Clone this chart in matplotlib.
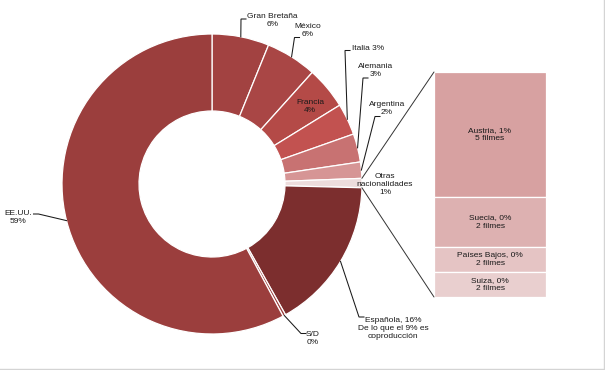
import matplotlib.pyplot as plt
from matplotlib.patches import ConnectionPatch
from matplotlib.lines import Line2D
import numpy as np

plt.rcParams['font.family'] = ['Liberation Sans', 'DejaVu Sans']

# share of films by nationality (%), clockwise from the top
countries = ['Gran Bretaña', 'México', 'Francia', 'Italia', 'Alemania', 'Argentina',
             'Otras', 'Española', 'S/D', 'EE.UU.']
shares = [6.15, 5.5, 4.55, 3.4, 3.05, 1.75, 1.0, 16.45, 0.3, 57.85]
share_labels = ['Gran Bretaña\n6%', 'México\n6%', 'Francia\n4%', 'Italia 3%', 'Alemania\n3%',
                'Argentina\n2%', 'Otras\nnacionalidades\n1%',
                'Española, 16%\nDe lo que el 9% es\ncoproducción', 'S/D\n0%', 'EE.UU.\n59%']
colors = ['#a24241', '#a94645', '#b44a47', '#c25250', '#c87272', '#d69595',
          '#eddcdc', '#7c2e2e', '#9b3e3d', '#9b3e3d']

# breakdown of "otras nacionalidades", top to bottom
others = ['Austria', 'Suecia', 'Países Bajos', 'Suiza']
others_pct = ['1%', '0%', '0%', '0%']
others_films = [5, 2, 2, 2]
others_heights = [5, 2, 1, 1]
others_colors = ['#d7a1a1', '#ddb1b1', '#e5c4c4', '#e9cfcf']

W, H = 605, 370
CX, CY, R = 212, 184, 150   # donut centre / radius in pixels

# label placement in pixels (x, y from top-left, ha) and leader elbow (x, y, tick end x)
label_pos = {
    'Gran Bretaña': (272.5, 21, 'center'),
    'México': (308, 31, 'center'),
    'Francia': (310, 106, 'center'),
    'Italia': (351.5, 48.5, 'left'),
    'Alemania': (376, 70, 'center'),
    'Argentina': (387, 109, 'center'),
    'Otras': (385, 184, 'center'),
    'Española': (393, 328, 'center'),
    'S/D': (313, 338, 'center'),
    'EE.UU.': (18.5, 217.5, 'center'),
}
leaders = {
    'Gran Bretaña': (241, 19, 246),
    'México': (294.5, 37.5, 299.5),
    'Italia': (345, 50.5, 350),
    'Alemania': (363, 78, 368),
    'Argentina': (375, 116.5, 380),
    'Española': (359, 317, 364),
    'S/D': (301, 333.5, 306),
    'EE.UU.': (38.5, 214, 33.5),
}


def px(x, y):
    # pixel position -> donut data coordinates
    return (x - CX) / R, (CY - y) / R


fig = plt.figure(figsize=(W / 100, H / 100), dpi=100)
ax = fig.add_axes([(CX - R) / W, (H - CY - R) / H, 2 * R / W, 2 * R / H])

wedges, _ = ax.pie(shares, colors=colors, startangle=90, counterclock=False, radius=1,
                   wedgeprops=dict(width=1 - 73 / 150, edgecolor='white', linewidth=0.9))
ax.set_xlim(-1, 1)
ax.set_ylim(-1, 1)
ax.axis('off')

txt = dict(fontsize=6, color='#1a1a1a', linespacing=1.2, va='center', multialignment='center')
for name, lab, w in zip(countries, share_labels, wedges):
    x, y, ha = label_pos[name]
    tx, ty = px(x, y)
    ax.text(tx, ty, lab, ha=ha, clip_on=False, **txt)
    if name in leaders:
        mid = np.deg2rad((w.theta1 + w.theta2) / 2)
        ex, ey, endx = leaders[name]
        p1 = px(ex, ey)
        p2 = px(endx, ey)
        ax.plot([np.cos(mid), p1[0], p2[0]], [np.sin(mid), p1[1], p2[1]],
                color='#1a1a1a', lw=0.75, clip_on=False, solid_joinstyle='miter')

# stacked bar for the breakdown
ax2 = fig.add_axes([434 / W, (H - 297) / H, 112 / W, 225 / H])
total = sum(others_heights)
bottom = total
for name, pct, n, h, c in zip(others, others_pct, others_films, others_heights, others_colors):
    bottom -= h
    ax2.bar(0, h, bottom=bottom, width=1, color=c, edgecolor='white', linewidth=0.9)
    ax2.text(0, bottom + h / 2, f'{name}, {pct}\n{n} filmes', ha='center', **txt)
ax2.set_xlim(-0.5, 0.5)
ax2.set_ylim(0, total)
ax2.axis('off')

# connectors from the "otras" slice to the bar
otras = wedges[countries.index('Otras')]
for ang, yb in [(otras.theta2, total), (otras.theta1, 0)]:
    a = np.deg2rad(ang)
    con = ConnectionPatch(xyA=(np.cos(a), np.sin(a)), coordsA=ax.transData,
                          xyB=(-0.5, yb), coordsB=ax2.transData,
                          color='#333333', lw=0.7)
    fig.add_artist(con)

# light frame on right and bottom edges
fig.add_artist(Line2D([603.5 / W, 603.5 / W], [1.5 / H, 1], color='#d4d4d4', lw=1))
fig.add_artist(Line2D([0, 603.5 / W], [1.5 / H, 1.5 / H], color='#d4d4d4', lw=1))

fig.savefig('out.png', dpi=100)
